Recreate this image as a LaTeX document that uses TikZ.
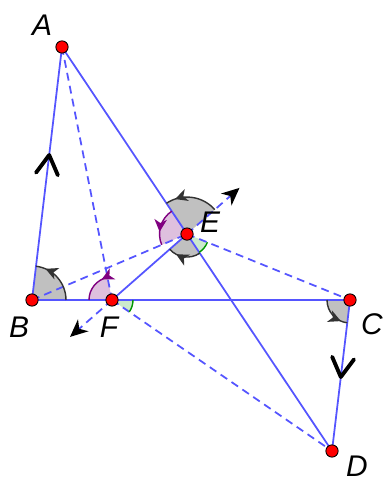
\documentclass[tikz,border=0pt]{standalone}
\usepackage{fontspec}
\setmainfont{Liberation Sans}
\usetikzlibrary{arrows.meta, calc, decorations.markings}
\definecolor{cLine}{RGB}{85,85,255}
\definecolor{cRed}{RGB}{255,0,0}
\definecolor{cGray}{RGB}{192,192,192}
\definecolor{cGrayD}{RGB}{50,50,50}
\definecolor{cPink}{RGB}{222,192,222}
\definecolor{cPurple}{RGB}{128,0,128}
\definecolor{cMint}{RGB}{204,234,204}
\definecolor{cGreen}{RGB}{0,150,0}
\tikzset{
	seg/.style     ={cLine, line width=1pt},
	dseg/.style    ={cLine, line width=1pt, dash pattern=on 4.5pt off 3pt},
	vecseg/.style  ={dseg, -{Stealth[black, length=10pt, width=9pt, inset=3pt]}},
	pt/.style      ={circle, fill=cRed, draw=black, line width=0.5pt, minimum size=7pt, inner sep=0pt},
	lbl/.style     ={font=\fontsize{17}{19}\selectfont\itshape, inner sep=0pt},
	parmark/.style ={black, line width=2.2pt, line cap=round, line join=round},
	% angle marks
	grayarc/.style ={draw=cGrayD, line width=0.8pt},
	pinkarc/.style ={draw=cPurple, line width=0.8pt},
	mintarc/.style ={draw=cGreen, line width=0.8pt},
	angarrow/.style={postaction={decorate}, decoration={markings, mark=at position #1 with {\arrow{Stealth[length=7pt, width=7pt, inset=2pt]}}}},
}
\begin{document}
\begin{tikzpicture}[x=0.02cm, y=0.02cm]
	\useasboundingbox (0,0) rectangle (386,481);
	% points
	\coordinate (A) at (62,434);
	\coordinate (B) at (32,181);
	\coordinate (F) at (112,181);
	\coordinate (C) at (350,181);
	\coordinate (D) at (332,30);
	\coordinate (E) at ($(A)!0.463!(D)$);
	\coordinate (Fv) at ($(F)!-0.56!(E)$);
	\coordinate (Ev) at ($(E)!-0.7!(F)$);
	% angle fills
	\fill[cGray] (B) -- ++(0:0.68cm) arc[start angle=0, end angle=83.2, radius=0.68cm] -- cycle;
	\fill[cGray] (C) -- ++(180:0.46cm) arc[start angle=180, end angle=263.2, radius=0.46cm] -- cycle;
	\fill[cGray] (E) -- ++(41.3:0.74cm) arc[start angle=41.3, end angle=123.7, radius=0.74cm] -- cycle;
	\fill[cGray] (E) -- ++(303.7:0.46cm) arc[start angle=303.7, end angle=221.3, radius=0.46cm] -- cycle;
	\fill[cPink] (E) -- ++(123.7:0.55cm) arc[start angle=123.7, end angle=203.1, radius=0.55cm] -- cycle;
	\fill[cPink] (F) -- ++(101.2:0.46cm) arc[start angle=101.2, end angle=180, radius=0.46cm] -- cycle;
	\fill[cMint] (F) -- ++(-34.5:0.42cm) arc[start angle=-34.5, end angle=0, radius=0.42cm] -- cycle;
	\fill[cMint] (E) -- ++(-56.3:0.44cm) arc[start angle=-56.3, end angle=-22, radius=0.44cm] -- cycle;
	% segments
	\draw[seg] (A) -- (B);
	\draw[seg] (A) -- (D);
	\draw[seg] (B) -- (C);
	\draw[seg] (C) -- (D);
	\draw[seg] (F) -- (E);
	\draw[dseg] (A) -- (F);
	\draw[dseg] (B) -- (E);
	\draw[dseg] (E) -- (C);
	\draw[dseg] (F) -- (D);
	\draw[vecseg] (F) -- (Fv);
	\draw[vecseg] (E) -- (Ev);
	% angle arcs
	\draw[grayarc, angarrow=0.8] ($(B)+(0:0.68cm)$) arc[start angle=0, end angle=83.2, radius=0.68cm];
	\draw[grayarc, angarrow=0.8] ($(C)+(180:0.46cm)$) arc[start angle=180, end angle=263.2, radius=0.46cm];
	\draw[grayarc, angarrow=0.82] ($(E)+(41.3:0.74cm)$) arc[start angle=41.3, end angle=123.7, radius=0.74cm];
	\draw[grayarc, angarrow=0.75] ($(E)+(303.7:0.46cm)$) arc[start angle=303.7, end angle=221.3, radius=0.46cm];
	\draw[pinkarc, angarrow=0.65] ($(E)+(123.7:0.55cm)$) arc[start angle=123.7, end angle=203.1, radius=0.55cm];
	\draw[pinkarc, angarrow=0.2] ($(F)+(101.2:0.46cm)$) arc[start angle=101.2, end angle=180, radius=0.46cm];
	\draw[mintarc] ($(F)+(-34.5:0.42cm)$) arc[start angle=-34.5, end angle=0, radius=0.42cm];
	\draw[mintarc] ($(E)+(-56.3:0.44cm)$) arc[start angle=-56.3, end angle=-22, radius=0.44cm];
	% parallel marks
	\coordinate (mAB) at ($(B)!0.573!(A)$);
	\coordinate (mCD) at ($(C)!0.51!(D)$);
	\draw[parmark] ($(mAB)!0.44cm!30:(B)$) -- (mAB) -- ($(mAB)!0.44cm!-30:(B)$);
	\draw[parmark] ($(mCD)!0.44cm!30:(C)$) -- (mCD) -- ($(mCD)!0.44cm!-30:(C)$);
	% points and labels
	\foreach \p in {A,B,C,D,E,F} \node[pt] (p\p) at (\p) {};
	\node[lbl] (lA) at (42,456) {A};
	\node[lbl] (lB) at (19,154) {B};
	\node[lbl] (lF) at (109,154) {F};
	\node[lbl] (lE) at (210,259) {E};
	\node[lbl] (lC) at (372,157) {C};
	\node[lbl] (lD) at (357,15) {D};
\end{tikzpicture}
\end{document}
